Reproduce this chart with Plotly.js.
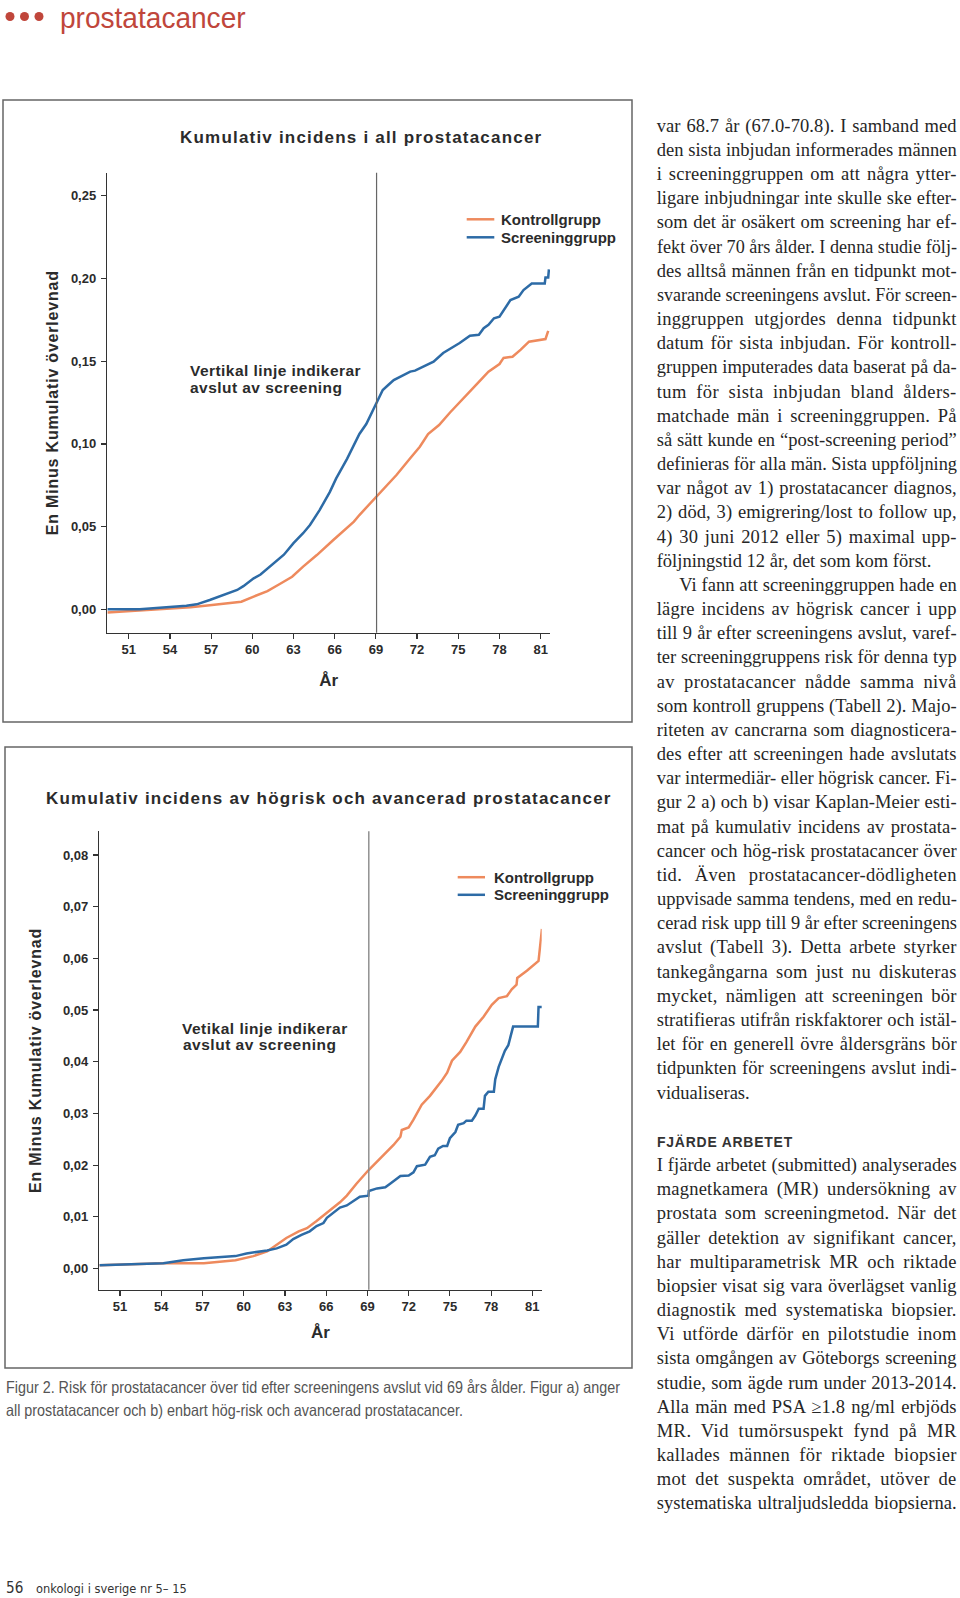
<!DOCTYPE html>
<html><head><meta charset="utf-8">
<script src="https://cdn.plot.ly/plotly-3.0.1.min.js"></script>
<style>
html,body{margin:0;padding:0;background:#fff;}
#page{position:relative;width:960px;height:1598px;overflow:hidden;background:#fff;}
#chart{position:absolute;left:0;top:0;width:960px;height:1598px;}
#txt{position:absolute;left:0;top:0;width:960px;height:1598px;pointer-events:none;}
.ln{position:absolute;white-space:nowrap;margin:0;padding:0;}
.ln span{display:inline-block;white-space:nowrap;transform-origin:0 0;}
</style></head><body>
<div id="page"><div id="chart"></div><div id="txt"></div></div>
<script>
// ---------------- DATA ----------------
const yearTicks = [51, 54, 57, 60, 63, 66, 69, 72, 75, 78, 81];
const allTicks = [0, 0.05, 0.10, 0.15, 0.20, 0.25];
const highTicks = [0, 0.01, 0.02, 0.03, 0.04, 0.05, 0.06, 0.07, 0.08];
const seriesNames = ["Kontrollgrupp", "Screeninggrupp"];
const screeningEnd = 69.05;

// Figure a) all prostate cancer
const ctrlAllX = [49.45,51.8,55.5,56.9,58.4,59.2,60.1,61.1,62.0,62.9,63.7,64.7,65.9,67.4,67.8,68.6,69.06,69.5,70.5,71.5,72.2,72.8,73.6,74.4,75.4,76.4,77.2,78.0,78.3,78.95,79.55,80.15,81.35,81.55];
const ctrlAllY = [-0.002,-0.0008,0.0012,0.0024,0.0036,0.0046,0.0077,0.011,0.0153,0.0197,0.0258,0.0328,0.0419,0.053,0.057,0.064,0.0685,0.0725,0.0812,0.0913,0.0983,0.106,0.1114,0.119,0.1275,0.1366,0.1437,0.1483,0.152,0.1527,0.157,0.1618,0.1634,0.1684];
const scrAllX = [49.45,51.8,55.2,55.95,56.9,58.4,58.9,59.35,60.1,60.6,61.3,61.8,62.3,63.0,63.7,64.2,64.9,65.65,66.1,66.9,67.8,68.3,69.06,69.5,69.9,70.3,71.5,71.85,73.2,73.9,75.1,75.85,76.5,76.85,77.2,77.6,78.0,78.8,79.4,79.75,80.35,81.3,81.35,81.55,81.6];
const scrAllY = [0,0,0.0022,0.003,0.0056,0.010,0.0117,0.014,0.0187,0.021,0.026,0.029,0.033,0.040,0.046,0.051,0.060,0.071,0.079,0.091,0.106,0.112,0.1245,0.1326,0.1356,0.1386,0.1437,0.1443,0.1497,0.155,0.161,0.1654,0.166,0.170,0.172,0.176,0.177,0.187,0.189,0.193,0.197,0.197,0.2007,0.2007,0.2055];

// Figure b) high-risk and advanced prostate cancer
const ctrlHighX = [49.5,54.15,57.1,59.4,60.7,61.7,62.4,63.1,64.0,64.6,65.3,66.05,67.0,67.5,68.2,69.07,69.9,70.9,71.4,71.5,72.0,72.35,72.95,73.55,74.4,74.8,75.15,75.75,76.2,76.85,77.45,78.05,78.55,79.15,79.5,79.85,79.9,80.6,81.45,81.55,81.7];
const ctrlHighY = [0.00065,0.001,0.001,0.0016,0.0024,0.0033,0.0046,0.0059,0.0072,0.0078,0.0092,0.0108,0.0128,0.0141,0.0164,0.019,0.0213,0.0239,0.0255,0.0268,0.0273,0.0288,0.0317,0.0334,0.0363,0.0379,0.0402,0.0419,0.0438,0.0468,0.0487,0.051,0.0523,0.0527,0.054,0.0549,0.0562,0.0576,0.0595,0.0618,0.0657];
const scrHighX = [49.5,54.15,55.6,57.1,59.4,60.2,61.7,62.4,63.1,63.6,64.2,64.8,65.3,65.8,66.05,66.5,67.0,67.5,68.0,68.45,69.07,69.1,69.7,70.3,70.65,71.4,72.0,72.35,72.6,73.2,73.55,73.9,74.15,74.5,74.8,75.0,75.4,75.6,76.0,76.2,76.6,76.85,77.1,77.45,77.55,77.8,78.2,78.3,78.55,78.8,79.0,79.25,79.6,81.4,81.45,81.7];
const scrHighY = [0.00065,0.001,0.0016,0.002,0.0024,0.0029,0.0035,0.0039,0.0046,0.0057,0.0065,0.0072,0.0082,0.0088,0.0098,0.0107,0.0118,0.0122,0.0131,0.0139,0.0141,0.015,0.0155,0.0157,0.0164,0.0179,0.018,0.0186,0.0198,0.0201,0.0216,0.0219,0.0232,0.0237,0.0237,0.0252,0.0264,0.0278,0.0281,0.0286,0.0286,0.0296,0.0309,0.0309,0.0334,0.0342,0.0342,0.0366,0.039,0.0409,0.0421,0.0432,0.0468,0.0468,0.0506,0.0506];

// Texts
const title1 = "Kumulativ incidens i all prostatacancer";
const title2 = "Kumulativ incidens av högrisk och avancerad prostatacancer";
const yTitle = "En Minus Kumulativ överlevnad";
const xTitle = "År";
const note1 = ["Vertikal linje indikerar", "avslut av screening"];
const note2 = ["Vetikal linje indikerar", "avslut av screening"];
const headerText = "prostatacancer";
const captionLines = ["Figur 2. Risk för prostatacancer över tid efter screeningens avslut vid 69 års ålder. Figur a) anger",
  "all prostatacancer och b) enbart hög-risk och avancerad prostatacancer."];
const footerNum = "56";
const footerText = "onkologi i sverige nr 5– 15";
const headingText = "FJÄRDE ARBETET";
const bodyLines1 = [
"var 68.7 år (67.0-70.8). I samband med",
"den sista inbjudan informerades männen",
"i screeninggruppen om att några ytter-",
"ligare inbjudningar inte skulle ske efter-",
"som det är osäkert om screening har ef-",
"fekt över 70 års ålder. I denna studie följ-",
"des alltså männen från en tidpunkt mot-",
"svarande screeningens avslut. För screen-",
"inggruppen utgjordes denna tidpunkt",
"datum för sista inbjudan. För kontroll-",
"gruppen imputerades data baserat på da-",
"tum för sista inbjudan bland ålders-",
"matchade män i screeninggruppen. På",
"så sätt kunde en “post-screening period”",
"definieras för alla män. Sista uppföljning",
"var något av 1) prostatacancer diagnos,",
"2) död, 3) emigrering/lost to follow up,",
"4) 30 juni 2012 eller 5) maximal upp-",
"följningstid 12 år, det som kom först.",
"Vi fann att screeninggruppen hade en",
"lägre incidens av högrisk cancer i upp",
"till 9 år efter screeningens avslut, varef-",
"ter screeninggruppens risk för denna typ",
"av prostatacancer nådde samma nivå",
"som kontroll gruppens (Tabell 2). Majo-",
"riteten av cancrarna som diagnosticera-",
"des efter att screeningen hade avslutats",
"var intermediär- eller högrisk cancer. Fi-",
"gur 2 a) och b) visar Kaplan-Meier esti-",
"mat på kumulativ incidens av prostata-",
"cancer och hög-risk prostatacancer över",
"tid. Även prostatacancer-dödligheten",
"uppvisade samma tendens, med en redu-",
"cerad risk upp till 9 år efter screeningens",
"avslut (Tabell 3). Detta arbete styrker",
"tankegångarna som just nu diskuteras",
"mycket, nämligen att screeningen bör",
"stratifieras utifrån riskfaktorer och istäl-",
"let för en generell övre åldersgräns bör",
"tidpunkten för screeningens avslut indi-",
"vidualiseras."];
const bodyLines2 = [
"I fjärde arbetet (submitted) analyserades",
"magnetkamera (MR) undersökning av",
"prostata som screeningmetod. När det",
"gäller detektion av signifikant cancer,",
"har multiparametrisk MR och riktade",
"biopsier visat sig vara överlägset vanlig",
"diagnostik med systematiska biopsier.",
"Vi utförde därför en pilotstudie inom",
"sista omgången av Göteborgs screening",
"studie, som ägde rum under 2013-2014.",
"Alla män med PSA ≥1.8 ng/ml erbjöds",
"MR. Vid tumörsuspekt fynd på MR",
"kallades männen för riktade biopsier",
"mot det suspekta området, utöver de",
"systematiska ultraljudsledda biopsierna."];
const unjustified1 = [18, 40];
const indented1 = [19];

// ---------------- LAYOUT HELPERS ----------------
const W = 960, H = 1598;
const px = x => x / W;
const py = y => 1 - y / H;
const ORANGE = '#ee8a5d', BLUE = '#2d6ba6', INK = '#2b2b2b', RED = '#c0463b';
const SANS = 'Liberation Sans, Arial, Helvetica, sans-serif';
const ls = (t, s) => '<span style="letter-spacing:' + s + 'px">' + t + '</span>';

function axisX(domain, range, anchor, standoff) {
  return {domain: domain, range: range, anchor: anchor, tickvals: yearTicks,
    showline: true, linecolor: '#333', linewidth: 1.5, ticks: 'outside', ticklen: 5, tickwidth: 1.2,
    tickcolor: '#333', showgrid: false, zeroline: false, fixedrange: true,
    tickfont: {family: SANS, size: 13, weight: 700, color: INK}, ticklabelstandoff: -1,
    title: {text: xTitle, font: {family: SANS, size: 17, weight: 700, color: INK}, standoff: standoff}};
}
function axisY(domain, range, anchor, tickvals, standoff) {
  return {domain: domain, range: range, anchor: anchor, tickvals: tickvals, tickformat: '.2f',
    showline: true, linecolor: '#333', linewidth: 1.5, ticks: 'outside', ticklen: 5, tickwidth: 1.2,
    tickcolor: '#333', showgrid: false, zeroline: false, fixedrange: true,
    tickfont: {family: SANS, size: 13, weight: 700, color: INK}, ticklabelstandoff: 2,
    title: {text: ls(yTitle, 0.8), font: {family: SANS, size: 16, weight: 700, color: INK}, standoff: standoff}};
}

const traces = [
  {x: ctrlAllX, y: ctrlAllY, name: seriesNames[0], type: 'scatter', mode: 'lines', line: {color: ORANGE, width: 2.5}, xaxis: 'x', yaxis: 'y', showlegend: false},
  {x: scrAllX, y: scrAllY, name: seriesNames[1], type: 'scatter', mode: 'lines', line: {color: BLUE, width: 2.5}, xaxis: 'x', yaxis: 'y', showlegend: false},
  {x: ctrlHighX, y: ctrlHighY, name: seriesNames[0], type: 'scatter', mode: 'lines', line: {color: ORANGE, width: 2.5}, xaxis: 'x2', yaxis: 'y2', showlegend: false},
  {x: scrHighX, y: scrHighY, name: seriesNames[1], type: 'scatter', mode: 'lines', line: {color: BLUE, width: 2.5}, xaxis: 'x2', yaxis: 'y2', showlegend: false}
];

function ann(text, x, y, size, xanchor, extra) {
  return Object.assign({text: text, x: px(x), y: py(y), xref: 'paper', yref: 'paper', showarrow: false,
    xanchor: xanchor, yanchor: 'middle', borderpad: 0,
    font: {family: SANS, size: size, weight: 700, color: INK}}, extra || {});
}
function hline(x0, x1, y, color) {
  return {type: 'line', xref: 'paper', yref: 'paper', x0: px(x0), x1: px(x1), y0: py(y), y1: py(y), line: {color: color, width: 2.5}};
}
function rect(x0, y0, x1, y1) {
  return {type: 'rect', xref: 'paper', yref: 'paper', x0: px(x0), x1: px(x1), y0: py(y1), y1: py(y0), line: {color: '#666', width: 1.5}, fillcolor: 'rgba(0,0,0,0)'};
}
function dot(cx, cy, r) {
  return {type: 'circle', xref: 'paper', yref: 'paper', x0: px(cx - r), x1: px(cx + r), y0: py(cy + r), y1: py(cy - r), line: {width: 0}, fillcolor: RED};
}

const layout = {
  width: W, height: H, margin: {l: 0, r: 0, t: 0, b: 0, pad: 0},
  paper_bgcolor: '#fff', plot_bgcolor: 'rgba(0,0,0,0)', separators: ',.', showlegend: false,
  font: {family: SANS, color: INK},
  xaxis: axisX([px(107.3), px(550)], [49.44, 81.68], 'y', 18),
  yaxis: axisY([py(632.7), py(172.7)], [-0.01415, 0.264], 'x', allTicks, 8),
  xaxis2: axisX([px(99.3), px(541.7)], [49.49, 81.68], 'y2', 13),
  yaxis2: axisY([py(1289.7), py(831.2)], [-0.0041, 0.0846], 'x2', highTicks, 17),
  shapes: [
    rect(3, 100, 632, 722), rect(5, 747, 632, 1368),
    {type: 'line', xref: 'x', yref: 'y domain', x0: screeningEnd, x1: screeningEnd, y0: 0, y1: 1, line: {color: '#666', width: 1.2}},
    {type: 'line', xref: 'x2', yref: 'y2 domain', x0: screeningEnd + 0.05, x1: screeningEnd + 0.05, y0: 0, y1: 1, line: {color: '#888', width: 1.4}},
    hline(466.7, 494.3, 219.3, ORANGE), hline(466.7, 494.3, 237.3, BLUE),
    hline(457.7, 485, 877.2, ORANGE), hline(457.7, 485, 894.8, BLUE),
    dot(10, 16.5, 4.5), dot(24.5, 16.5, 4.5), dot(39, 16.5, 4.5)
  ],
  annotations: [
    ann(ls(title1, 1.2), 361, 138, 17, 'center'),
    ann(ls(title2, 1.2), 329, 798.3, 17, 'center'),
    ann(ls(note1[0], 0.45), 189, 370.7, 15.5, 'left'),
    ann(ls(note1[1], 0.45), 189, 387.7, 15.5, 'left'),
    ann(ls(note2[0], 0.5), 180.5, 1028.3, 15.5, 'left'),
    ann(ls(note2[1], 0.5), 181.5, 1044.6, 15.5, 'left'),
    ann(seriesNames[0], 500, 219.3, 15, 'left'),
    ann(seriesNames[1], 500, 237.3, 15, 'left'),
    ann(seriesNames[0], 492.7, 877.2, 15, 'left'),
    ann(seriesNames[1], 492.7, 894.8, 15, 'left')
  ]
};

Plotly.newPlot('chart', traces, layout, {displayModeBar: false, staticPlot: true});

// ---------------- PAGE TEXT ----------------
const txt = document.getElementById('txt');
function place(text, o) {
  const div = document.createElement('div');
  div.className = 'ln';
  div.style.left = o.left + 'px';
  div.style.fontFamily = o.font;
  div.style.fontSize = o.size + 'px';
  div.style.fontWeight = o.weight || 400;
  div.style.color = o.color;
  div.style.lineHeight = o.lh + 'px';
  const span = document.createElement('span');
  span.textContent = text;
  if (o.ls) span.style.letterSpacing = o.ls + 'px';
  const probe = document.createElement('span');
  probe.style.cssText = 'display:inline-block;width:0;height:0;vertical-align:baseline;';
  div.appendChild(span); div.appendChild(probe);
  div.style.top = '0px';
  txt.appendChild(div);
  const base = probe.offsetTop;
  div.style.top = Math.max(o.minTop === undefined ? -1e9 : o.minTop, o.baseline - base) + 'px';
  let w = span.getBoundingClientRect().width;
  let scale = 1;
  if (o.mode === 'fit') scale = o.width / w;
  else if (o.mode === 'scale') scale = o.scale;
  else if (o.mode === 'justify' || o.mode === 'none') {
    if (w > o.width) scale = o.width / w;
    else if (o.mode === 'justify') {
      const n = (text.match(/ /g) || []).length;
      const extra = o.width - w;
      const lsp = Math.min(0.45, extra * 0.4 / Math.max(1, text.length - 1));
      span.style.letterSpacing = lsp + 'px';
      w = span.getBoundingClientRect().width;
      if (w > o.width) { span.style.letterSpacing = '0px'; w = span.getBoundingClientRect().width; }
      if (n > 0) span.style.wordSpacing = ((o.width - w) / n) + 'px';
    }
  }
  if (scale !== 1) span.style.transform = 'scaleX(' + scale + ')';
  return scale;
}

function drawText() {
  const SERIF = '"Liberation Serif", "Times New Roman", serif';
  const NARROW = '"Liberation Sans Narrow", "Liberation Sans", Arial, sans-serif';
  place(headerText, {left: 60, baseline: 28, font: NARROW, size: 30, color: RED, lh: 34, mode: 'fit', width: 185.6, minTop: 0.5});
  const sc = place(captionLines[0], {left: 6, baseline: 1393.3, font: NARROW, size: 16.5, color: '#555', lh: 22, mode: 'fit', width: 614});
  place(captionLines[1], {left: 6, baseline: 1416, font: NARROW, size: 16.5, color: '#555', lh: 22, mode: 'scale', scale: sc});
  place(footerNum, {left: 6, baseline: 1593.3, font: '"DejaVu Sans", sans-serif', size: 15, color: '#333', lh: 18, mode: 'fit', width: 17.3});
  place(footerText, {left: 36, baseline: 1593.3, font: '"DejaVu Sans", sans-serif', size: 11.5, color: '#333', lh: 16, mode: 'fit', width: 150.7});
  const step = 24.17, b0 = 131.7, L = 656.7, TW = 300;
  bodyLines1.forEach((t, i) => {
    const ind = indented1.includes(i) ? 22.6 : 0;
    place(t, {left: L + ind, baseline: b0 + step * i, font: SERIF, size: 18.5, color: '#262626', lh: 24,
      mode: unjustified1.includes(i) ? 'none' : 'justify', width: TW - ind});
  });
  place(headingText, {left: L, baseline: b0 + step * 42, font: SANS, size: 14, weight: 700, ls: 0.8, color: '#333', lh: 18, mode: 'fit', width: 136});
  bodyLines2.forEach((t, i) => {
    place(t, {left: L, baseline: b0 + step * (43 + i), font: SERIF, size: 18.5, color: '#262626', lh: 24, mode: 'justify', width: TW});
  });
}
if (document.fonts && document.fonts.ready) document.fonts.ready.then(drawText); else drawText();
</script>
</body></html>
